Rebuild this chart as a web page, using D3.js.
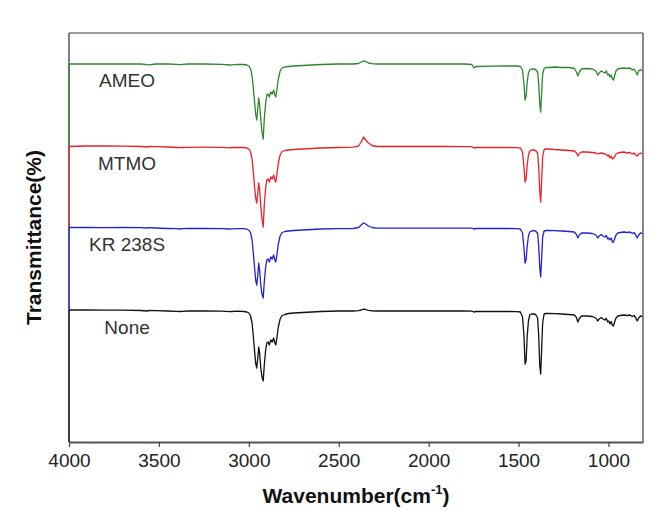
<!DOCTYPE html>
<html>
<head>
<meta charset="utf-8">
<script src="https://cdn.jsdelivr.net/npm/d3@7"></script>
<style>
  html, body { margin: 0; padding: 0; background: #fff; }
  svg { display: block; }
</style>
</head>
<body>
<svg id="chart" width="672" height="525"></svg>
<script>
// ---- Data ----
const wavenumbers = [
  4000, 3900, 3800, 3700, 3600, 3565, 3555, 3520, 3450, 3400, 3385, 3370, 3340, 3250, 3150, 3105, 3095, 3060,
  3030, 3010, 3000, 2990, 2982, 2975, 2968, 2962, 2956, 2950, 2945, 2940, 2934, 2927, 2920, 2914, 2907, 2900,
  2893, 2886, 2878, 2870, 2862, 2855, 2850, 2844, 2836, 2826, 2815, 2800, 2780, 2750, 2700, 2650, 2600, 2500,
  2420, 2390, 2375, 2362, 2350, 2335, 2315, 2290, 2200, 2100, 2000, 1900, 1800,
  1760, 1748, 1738, 1720, 1650, 1560, 1510, 1490, 1478, 1470, 1464, 1458, 1452, 1445, 1438, 1428, 1418, 1405,
  1394, 1388, 1382, 1377, 1372, 1366, 1358, 1348, 1330, 1300, 1260, 1220,
  1190, 1178, 1170, 1162, 1150, 1120, 1090, 1070, 1060, 1052, 1040, 1030, 1020, 1012, 1004, 998, 992, 985,
  978, 972, 966, 958, 948, 935, 915, 895, 880, 868, 858, 848, 840, 832, 822, 812
];

const ameo = [
  100, 100, 100, 100, 100, 99.3, 99.2, 100, 100, 99.6, 99.3, 99.6, 100, 100, 99.6, 99, 99.2, 99.6,
  99.5, 99, 98, 95, 88, 76, 62, 50, 44, 56, 66, 60, 46, 32, 25, 45, 60, 69,
  70, 67, 72, 70, 74, 69, 67, 74, 85, 93, 96, 97, 97.5, 98, 98.5, 99, 99.5, 100,
  100, 100.5, 102, 103, 102.5, 101, 100.3, 100, 100, 100, 100, 100, 100,
  99.5, 96, 97.5, 97.5, 97.8, 98, 98, 97.5, 94, 80, 64, 68, 82, 91, 94, 95, 95, 94.5,
  92, 80, 60, 52, 70, 90, 95.5, 96.5, 96.5, 97, 96.5, 96.5,
  95.5, 92, 88, 92, 95, 95.5, 95, 93, 89, 91, 93, 92, 91, 93, 89, 90, 87, 89,
  85, 84, 88, 93, 95, 95.5, 96, 95.5, 96, 94, 95, 92, 89, 93, 94.5, 93
];

const mtmo = [
  100.5, 101, 101, 100.8, 100.5, 100, 100.5, 100.3, 100, 99.5, 99.3, 99.5, 99.7, 99.8, 99.7, 99.2, 99.5, 99.7,
  99.5, 99, 98, 95, 88, 75, 60, 49, 44, 54, 64, 58, 42, 28, 20, 42, 58, 67,
  68, 65, 70, 68, 72, 67, 65, 72, 84, 92, 95.5, 96.5, 97, 97.5, 98, 98.5, 99, 99.5,
  99.8, 101, 105, 110, 107, 104, 101.5, 100.5, 100.5, 100.5, 100.5, 100.5, 100.3,
  100.3, 99, 99.5, 99.5, 99.5, 99.5, 99.3, 99, 95, 80, 65, 68, 82, 92, 96, 97, 97, 96.5,
  94, 80, 55, 45, 65, 90, 97.5, 98, 98, 97.5, 97, 96.5,
  96, 94, 91, 93.5, 95, 95, 94.5, 94, 93, 93.5, 94, 93.5, 93, 92.5, 91, 92, 89, 91,
  88, 89, 90, 93, 94, 94.5, 95, 94, 94.5, 93, 94, 92, 91, 93, 94, 93
];

const kr238s = [
  100.5, 100.5, 100.3, 100.5, 100.3, 100, 100.3, 100, 99.5, 99.3, 99, 99.3, 99.5, 99.5, 99.3, 99, 99.2, 99.4,
  99.3, 98.8, 97.8, 95, 88, 75, 60, 48, 43, 53, 65, 58, 44, 34, 30, 46, 60, 68,
  69, 66, 71, 69, 73, 68, 66, 73, 84, 92, 95.5, 96.5, 97, 97.5, 98, 98.5, 99, 99.3,
  99.5, 100.5, 103, 105, 104, 102, 100.5, 99.8, 99.8, 99.8, 99.8, 99.8, 99.8,
  99.8, 99, 99.5, 99.5, 99.5, 99.5, 99.3, 99, 95, 80, 65, 68, 82, 92, 96, 97, 97.3, 97,
  94.5, 82, 60, 51, 68, 91, 97, 97.5, 97.5, 97.3, 97, 96.5,
  96, 93.5, 90, 93, 95, 95, 94.5, 93, 90, 92, 93.5, 92, 91, 92.5, 89, 90, 88, 90,
  86, 86, 89, 93, 95, 95.5, 96, 95.5, 96, 94.5, 95.5, 93, 90, 93, 95, 94.5
];

const none = [
  101, 101, 100.8, 100.8, 100.5, 100, 100.5, 100.3, 100, 99.7, 99.5, 99.7, 100, 100, 99.8, 99.3, 99.5, 99.8,
  99.5, 99, 98, 95, 88, 75, 60, 48, 43, 53, 64, 58, 44, 34, 30, 46, 60, 68,
  69, 66, 71, 69, 73, 68, 66, 73, 84, 92, 95.5, 96.5, 97.5, 98, 98.5, 99, 99.5, 100,
  100, 100.3, 101, 101.8, 101.5, 100.7, 100.2, 100, 100, 100, 100, 100, 100,
  99.8, 99, 99.5, 99.5, 99.5, 99.5, 99.3, 99, 94, 75, 47, 50, 75, 90, 96, 97, 97, 96.5,
  93, 75, 45, 37, 60, 88, 97, 97.5, 97.5, 97.3, 97, 96.5,
  96, 93.5, 89, 92.5, 95, 95, 94.5, 93, 90, 92, 93.5, 92, 91, 92.5, 89, 90, 87, 89.5,
  85.5, 85, 89, 93, 95, 95.5, 96, 95.5, 96, 94.5, 95.5, 93, 90, 93, 95, 94.5
];

const seriesNames = ["AMEO", "MTMO", "KR 238S", "None"];
const seriesValues = [ameo, mtmo, kr238s, none];
const stackOffsets = [278, 195, 114, 31];
const xTickValues = [4000, 3500, 3000, 2500, 2000, 1500, 1000];
const xDomain = [4000, 808];
const yDomain = [0, 409];

// ---- Styles ----
const colors = ["#2c862c", "#e62229", "#2222d2", "#111111"];
const margin = { left: 69, right: 29, top: 33, bottom: 83 };
const W = 672, H = 525;

const svg = d3.select("#chart");
const x = d3.scaleLinear().domain(xDomain).range([margin.left, W - margin.right]);
const y = d3.scaleLinear().domain(yDomain).range([H - margin.bottom, margin.top]);

// frame (top / right)
svg.append("line")
  .attr("x1", x(xDomain[0])).attr("x2", x(xDomain[1]))
  .attr("y1", y(yDomain[1])).attr("y2", y(yDomain[1]))
  .attr("stroke", "#3a3a3a").attr("stroke-width", 1.2);
svg.append("line")
  .attr("x1", x(xDomain[1])).attr("x2", x(xDomain[1]))
  .attr("y1", y(yDomain[1])).attr("y2", y(yDomain[0]))
  .attr("stroke", "#3a3a3a").attr("stroke-width", 1.2);
// left frame: dark on top, then coloured drops for each series
svg.append("line")
  .attr("x1", x(xDomain[0])).attr("x2", x(xDomain[0]))
  .attr("y1", y(yDomain[1])).attr("y2", y(yDomain[0]))
  .attr("stroke", "#2a2a2a").attr("stroke-width", 1.2);

const line = d3.line()
  .x((d, i) => x(wavenumbers[i]))
  .y(d => y(d));

seriesValues.forEach((vals, si) => {
  const shifted = vals.map(v => v + stackOffsets[si]);
  const startY = y(shifted[0]);
  const endY = si < seriesValues.length - 1
    ? y(seriesValues[si + 1][0] + stackOffsets[si + 1])
    : y(yDomain[0]);
  svg.append("line")
    .attr("x1", x(xDomain[0])).attr("x2", x(xDomain[0]))
    .attr("y1", startY).attr("y2", endY)
    .attr("stroke", colors[si]).attr("stroke-width", 1.2);
  svg.append("path")
    .datum(shifted)
    .attr("fill", "none")
    .attr("stroke", colors[si])
    .attr("stroke-width", 1.3)
    .attr("stroke-linejoin", "round")
    .attr("d", line);
  svg.append("text")
    .attr("x", x(3677))
    .attr("y", y(100 + stackOffsets[si]) + 23)
    .attr("text-anchor", "middle")
    .attr("font-family", "'Liberation Sans', Arial, sans-serif")
    .attr("font-size", 19)
    .attr("fill", "#333")
    .text(seriesNames[si]);
});

// x axis
const xAxis = d3.axisBottom(x)
  .tickValues(xTickValues)
  .tickFormat(d3.format("d"))
  .tickSize(5).tickSizeOuter(0).tickPadding(7);
const gx = svg.append("g")
  .attr("transform", `translate(0,${y(yDomain[0])})`)
  .call(xAxis);
gx.select(".domain").attr("stroke", "#555").attr("stroke-width", 2);
gx.selectAll(".tick line").attr("stroke", "#444").attr("stroke-width", 1.2);
gx.selectAll(".tick text")
  .attr("font-family", "'Liberation Sans', Arial, sans-serif")
  .attr("font-size", 19)
  .attr("fill", "#222");

// axis titles
const xt = svg.append("text")
  .attr("x", (x(xDomain[0]) + x(xDomain[1])) / 2)
  .attr("y", 503)
  .attr("text-anchor", "middle")
  .attr("font-family", "'Liberation Sans', Arial, sans-serif")
  .attr("font-size", 21)
  .attr("font-weight", "bold")
  .attr("fill", "#111");
xt.append("tspan").text("Wavenumber(cm");
xt.append("tspan").attr("font-size", 13).attr("dy", -9).text("-1");
xt.append("tspan").attr("dy", 9).text(")");

svg.append("text")
  .attr("transform", `translate(41,${(y(yDomain[0]) + y(yDomain[1])) / 2}) rotate(-90)`)
  .attr("text-anchor", "middle")
  .attr("font-family", "'Liberation Sans', Arial, sans-serif")
  .attr("font-size", 21)
  .attr("font-weight", "bold")
  .attr("fill", "#111")
  .text("Transmittance(%)");
</script>
</body>
</html>
